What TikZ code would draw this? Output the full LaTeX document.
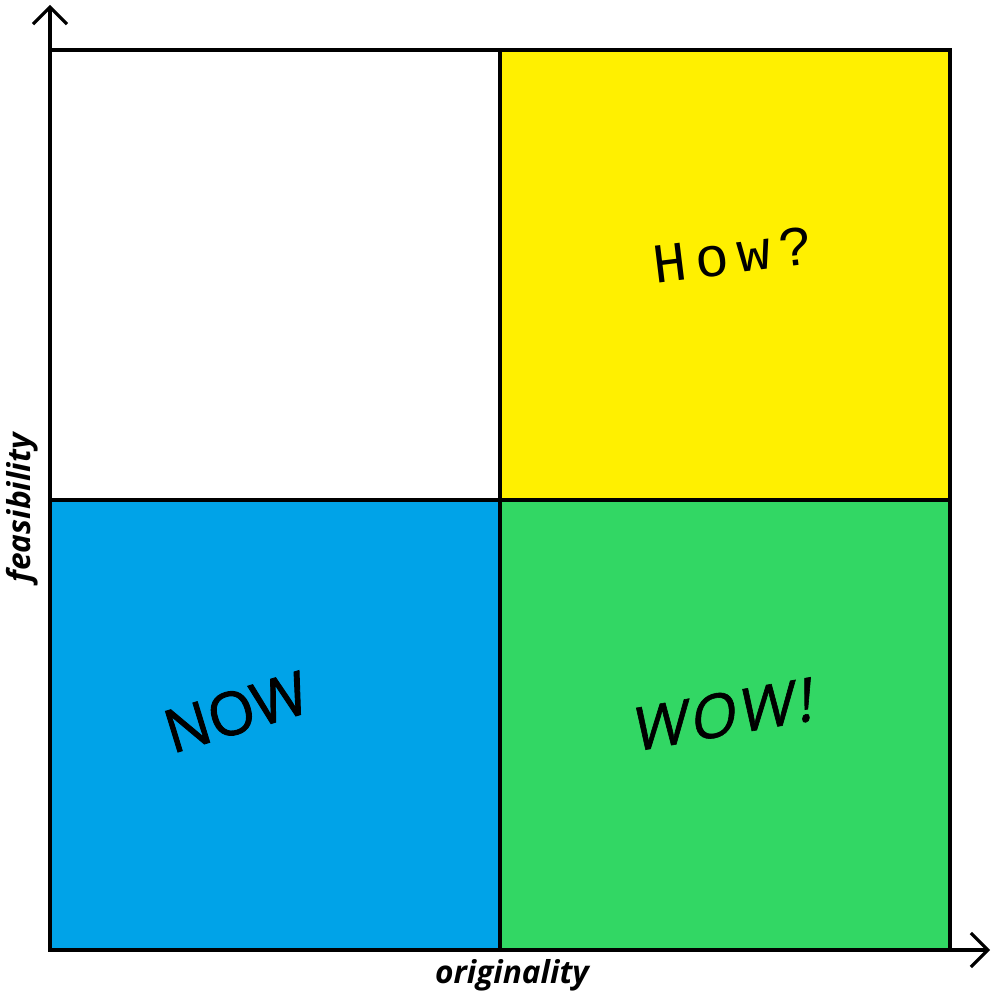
\documentclass[tikz,border=0pt]{standalone}
\usepackage{fontspec}
\setsansfont{Open Sans}
\newfontfamily\howfont[LetterSpace=15]{Liberation Mono}
\newfontfamily\wowfont[LetterSpace=6,FakeSlant=0.22,FakeBold=1]{Open Sans}
\usetikzlibrary{arrows.meta}
\definecolor{howyellow}{HTML}{FFF000}
\definecolor{nowblue}{HTML}{00A3E8}
\definecolor{wowgreen}{HTML}{32D764}

\begin{document}
\begin{tikzpicture}[line width=0.9pt,
    axis/.style={-{Straight Barb[length=1.7mm,width=3.4mm,line width=0.9pt]}},
    axislabel/.style={font=\sffamily\bfseries\itshape\fontsize{9}{9}\selectfont}]
    \useasboundingbox (0,0) rectangle (10,10);
    % quadrants
    \draw[fill=white] (0.5,5) rectangle (5,9.5);
    \draw[fill=howyellow] (5,5) rectangle (9.5,9.5);
    \draw[fill=nowblue] (0.5,0.5) rectangle (5,5);
    \draw[fill=wowgreen] (5,0.5) rectangle (9.5,5);
    % axes
    \coordinate (origin) at (0.5,0.5);
    \coordinate (ytip) at (0.5,9.95);
    \coordinate (xtip) at (9.9,0.5);
    \draw[axis] (origin) -- (ytip);
    \draw[axis] (origin) -- (xtip);
    \node[axislabel, rotate=90] (feas) at (0.22,4.92) {feasibility};
    \node[axislabel] (orig) at (5.12,0.25) {originality};
    % labels
    \node[rotate=7, font=\howfont\fontsize{16}{16}\selectfont] (how) at (7.33,7.45) {How?};
    \node[rotate=17, inner sep=0pt, font=\sffamily\fontsize{17}{17}\selectfont\addfontfeature{FakeBold=1.5}] (now) at (2.36,2.88) {NOW};
    \node[rotate=10, inner sep=0pt, font=\wowfont\fontsize{17}{17}\selectfont] (wow) at (7.2,2.85) {WOW!};
\end{tikzpicture}
\end{document}
